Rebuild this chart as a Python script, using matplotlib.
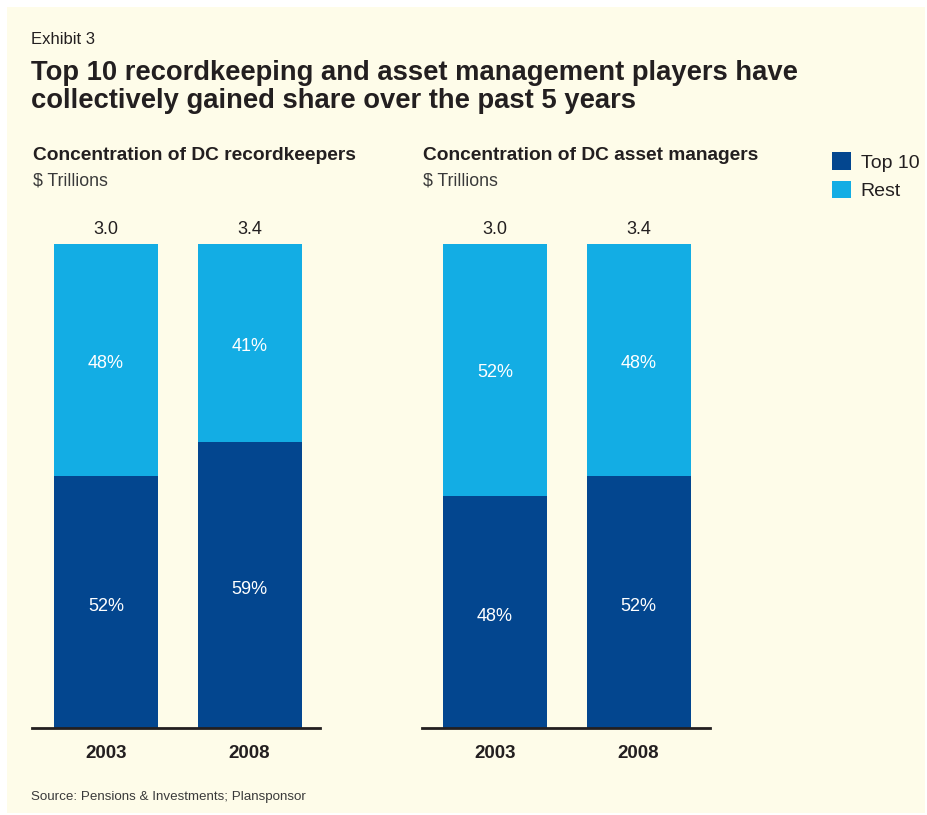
"""Exhibit 3: concentration of DC recordkeepers and asset managers."""

import matplotlib
matplotlib.use("Agg")
import matplotlib.pyplot as plt
from matplotlib.patches import Rectangle

plt.rcParams["font.family"] = ["Liberation Sans", "DejaVu Sans"]

# Data
years = ["2003", "2008"]
totals = ["3.0", "3.4"]
keepers_top10 = [52, 59]
keepers_rest = [48, 41]
managers_top10 = [48, 52]
managers_rest = [52, 48]

DARK = "#03468f"
LIGHT = "#13ade4"
TEXT = "#231f20"
CREAM = "#fefce9"

W, H = 927, 815
fig = plt.figure(figsize=(W / 100, H / 100), dpi=100)
fig.patch.set_facecolor("white")


def fx(px):
    return px / W


def fy(py):
    return 1 - py / H


# cream panel
fig.patches.append(Rectangle((fx(7), fy(813)), fx(918), (813 - 7) / H,
                             transform=fig.transFigure, facecolor=CREAM,
                             edgecolor="none", zorder=-10))

fig.text(fx(31), fy(40), "Exhibit 3", fontsize=12, color=TEXT, va="center")
fig.text(fx(31), fy(73), "Top 10 recordkeeping and asset management players have",
         fontsize=19.7, fontweight="bold", color=TEXT, va="center")
fig.text(fx(31), fy(101), "collectively gained share over the past 5 years",
         fontsize=19.7, fontweight="bold", color=TEXT, va="center")
fig.text(fx(31), fy(797), "Source: Pensions & Investments; Plansponsor",
         fontsize=9.6, color="#3a3a3a", va="center")


def panel(left_px, right_px, lpad, rpad, top10, rest, title):
    ax = fig.add_axes([fx(left_px), fy(728), fx(right_px - left_px), (728 - 244) / H])
    ax.set_facecolor("none")
    x = range(len(years))
    width = 0.725
    b1 = ax.bar(x, [v / 100 for v in top10], width, color=DARK, label="Top 10")
    b2 = ax.bar(x, [v / 100 for v in rest], width, bottom=[v / 100 for v in top10],
                color=LIGHT, label="Rest")
    for i in x:
        ax.text(i, top10[i] / 200 - 0.009, f"{top10[i]}%", ha="center", va="center",
                color="white", fontsize=13)
        ax.text(i, top10[i] / 100 + rest[i] / 200 - 0.006, f"{rest[i]}%", ha="center",
                va="center", color="white", fontsize=13)
        ax.text(i, 1.03, totals[i], ha="center", va="center", color=TEXT, fontsize=13)
    ax.set_xlim(-lpad, 1 + rpad)
    ax.set_ylim(0, 1)
    ax.set_xticks(list(x))
    ax.set_xticklabels(years, fontsize=13.5, fontweight="bold", color=TEXT)
    ax.tick_params(axis="x", length=0, pad=12)
    ax.set_yticks([])
    for s in ["top", "right", "left"]:
        ax.spines[s].set_visible(False)
    ax.spines["bottom"].set_color(TEXT)
    ax.spines["bottom"].set_linewidth(2)
    fig.text(fx(left_px + 1), fy(155), title, fontsize=13.8, fontweight="bold",
             color=TEXT, va="center")
    fig.text(fx(left_px + 1), fy(181), "$ Trillions", fontsize=12.8, color="#3a3a3a",
             va="center")
    return b1, b2


h1, h2 = panel(32, 320, 0.516, 0.491, keepers_top10, keepers_rest,
               "Concentration of DC recordkeepers")
panel(422, 710, 0.509, 0.498, managers_top10, managers_rest,
      "Concentration of DC asset managers")

fig.legend([h1, h2], ["Top 10", "Rest"], loc="upper left",
           bbox_to_anchor=(fx(814), fy(135)), frameon=False, fontsize=14,
           handlelength=1.0, handleheight=1.0, handletextpad=0.5, labelspacing=0.45,
           labelcolor=TEXT)

fig.savefig("out.png", dpi=100, facecolor=fig.get_facecolor())
